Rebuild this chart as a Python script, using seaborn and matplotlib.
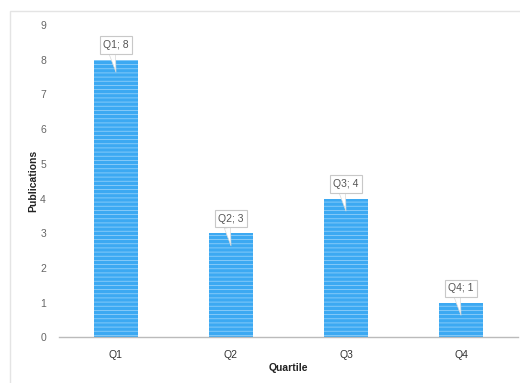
import matplotlib
matplotlib.use("Agg")
import matplotlib.pyplot as plt
from matplotlib.patches import Rectangle
import seaborn as sns
import pandas as pd

# Publications per journal quartile
quartiles = ["Q1", "Q2", "Q3", "Q4"]
publications = [8, 3, 4, 1]
y_ticks = list(range(0, 10))

sns.set_style("white")
plt.rcParams["font.family"] = ["Liberation Sans", "DejaVu Sans"]

df = pd.DataFrame({"Quartile": quartiles, "Publications": publications})

fig = plt.figure(figsize=(5.2, 3.83), dpi=100)
ax = fig.add_axes([0.1125, 0.1188, 0.8846, 0.816])

# light frame around the panel
fig.patches.append(Rectangle((10 / 520, -0.1), 1.2, (383 - 11) / 383 + 0.1,
                             transform=fig.transFigure, fill=False,
                             edgecolor="#e4e4e4", linewidth=1.0, zorder=0))

plt.rcParams["hatch.linewidth"] = 0.6
sns.barplot(data=df, x="Quartile", y="Publications", color="#3ca9f2",
            width=0.38, saturation=1, ax=ax, zorder=2)
for bar in ax.patches:
    bar.set_hatch("----")
    bar.set_edgecolor("#8fcffa")
    bar.set_linewidth(0)

# value callouts
for i, (q, v) in enumerate(zip(quartiles, publications)):
    ax.annotate(f"{q}; {v}", xy=(i, v - 0.36), xytext=(i, v + 0.42),
                ha="center", va="center", fontsize=7.5, color="#555555",
                bbox=dict(boxstyle="square,pad=0.35", fc="white",
                          ec="#c8c8c8", lw=0.8),
                arrowprops=dict(arrowstyle="wedge,tail_width=0.6,shrink_factor=0.5",
                                fc="white", ec="#d8d8d8", lw=0.5,
                                shrinkA=0, shrinkB=0, relpos=(0.33, 0.0)),
                zorder=5)

ax.set_ylim(0, 9)
ax.set_xlim(-0.5, 3.5)
ax.set_yticks(y_ticks)
ax.set_yticklabels([str(t) for t in y_ticks])
for side in ("top", "right", "left"):
    ax.spines[side].set_visible(False)
ax.spines["bottom"].set_color("#bbbbbb")
ax.spines["bottom"].set_linewidth(1.0)
ax.tick_params(axis="y", length=0, pad=9, labelsize=7.5, labelcolor="#666666")
ax.tick_params(axis="x", length=0, pad=9, labelsize=7.5, labelcolor="#333333")
ax.set_xlabel("Quartile", fontsize=7.5, fontweight="bold", color="#222222", labelpad=2)
ax.set_ylabel("Publications", fontsize=7.5, fontweight="bold", color="#222222", labelpad=1)

fig.savefig("out.png", dpi=100)
